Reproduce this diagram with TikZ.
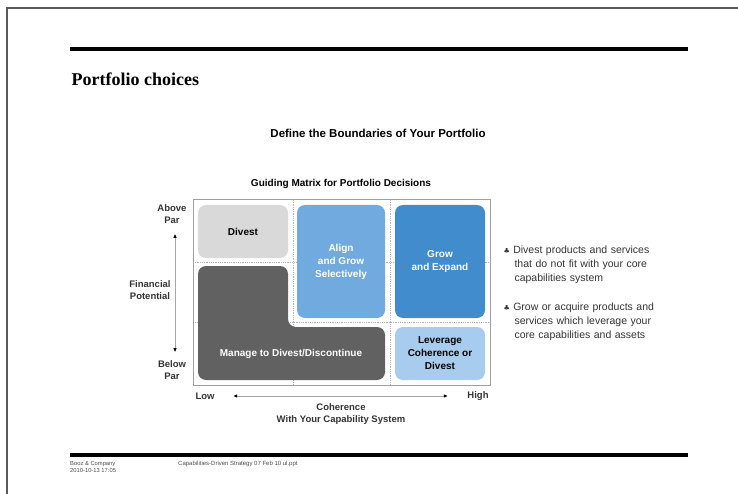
\documentclass[tikz,border=0pt]{standalone}
\usepackage{fontspec}
\setmainfont{Liberation Sans}
\newfontfamily\titlefont{Liberation Serif}
\newfontfamily\symfont{DejaVu Sans}
\usetikzlibrary{arrows.meta}

\definecolor{framegray}{RGB}{90,90,90}
\definecolor{divestgray}{RGB}{217,217,217}
\definecolor{managegray}{RGB}{97,97,97}
\definecolor{alignblue}{RGB}{112,170,222}
\definecolor{growblue}{RGB}{64,140,205}
\definecolor{leverageblue}{RGB}{168,204,237}

\tikzset{
  cellbox/.style={rounded corners=8pt,inner sep=0pt,align=center,font=\fontsize{10}{13}\selectfont\bfseries},
  gridline/.style={gray!60,densely dotted,line width=0.8pt},
  axislabel/.style={font=\fontsize{9.5}{11.5}\selectfont\bfseries,align=center,text=black!80},
  axisarrow/.style={gray!70,line width=0.8pt,{Latex[black,length=4pt,width=3.5pt]}-{Latex[black,length=4pt,width=3.5pt]}},
  bullettext/.style={anchor=north west,align=left,text width=190pt,font=\fontsize{10.5}{14}\selectfont,text=black!80},
  rule/.style={line width=3.5pt,black}
}
\newcommand{\clubmark}{{\symfont\fontsize{7}{14}\selectfont ♣}\ }

\begin{document}
\begin{tikzpicture}[x=1pt,y=-1pt]
\useasboundingbox (0,0) rectangle (738,494);
\draw[framegray,line width=1.2pt] (7,494) -- (7,8) -- (738,8);
\draw[rule] (70,49) -- (688,49);
\draw[rule] (70,455) -- (688,455);
\node[anchor=west,font=\titlefont\fontsize{18}{20}\selectfont\bfseries] (title) at (68,79) {Portfolio choices};
\node[font=\fontsize{11.5}{13}\selectfont\bfseries] (subtitle) at (378,133) {Define the Boundaries of Your Portfolio};
\node[font=\fontsize{10}{12}\selectfont\bfseries] (matrixtitle) at (341,184) {Guiding Matrix for Portfolio Decisions};
\coordinate (A) at (193,200);
\coordinate (B) at (490,385);
\draw[gridline] (293,200) -- (293,385);
\draw[gridline] (390,200) -- (390,385);
\draw[gridline] (193,262) -- (490,262);
\draw[gridline] (193,322) -- (490,322);
\draw[gray!75,line width=1pt] (A) rectangle (B);
\node[cellbox,fill=divestgray,minimum width=90pt,minimum height=53pt] (divest) at (243,231.5) {Divest};
\node[cellbox,fill=alignblue,text=white,minimum width=88pt,minimum height=113pt] (align) at (341,261.5) {Align\\and Grow\\Selectively};
\node[cellbox,fill=growblue,text=white,minimum width=90pt,minimum height=113pt] (grow) at (440,261.5) {Grow\\and Expand};
\node[cellbox,fill=leverageblue,minimum width=90pt,minimum height=53pt] (leverage) at (440,353.5) {Leverage\\Coherence or\\Divest};
\fill[managegray,rounded corners=8pt] (198,266) -- (288,266) -- (288,327) -- (385,327) -- (385,380) -- (198,380) -- cycle;
\node[cellbox,text=white] (manage) at (291,353.5) {Manage to Divest/Discontinue};
\node[axislabel] (abovepar) at (172,214) {Above\\Par};
\node[axislabel] (belowpar) at (172,370) {Below\\Par};
\draw[axisarrow,shorten <=7pt,shorten >=5pt] (abovepar.south -| 175,0) -- (belowpar.north -| 175,0);
\node[axislabel] (financial) at (150,290) {Financial\\Potential};
\node[axislabel] (low) at (205,396) {Low};
\node[axislabel] (high) at (478,396) {High};
\draw[axisarrow,shorten <=15pt,shorten >=16pt] (low.east) -- (high.west);
\node[axislabel] (coherence) at (341,414) {Coherence\\With Your Capability System};
\node[bullettext] (bulletone) at (500,242) {\clubmark Divest products and services\\\hspace*{11pt}that do not fit with your core\\\hspace*{11pt}capabilities system};
\node[bullettext] (bullettwo) at (500,299) {\clubmark Grow or acquire products and\\\hspace*{11pt}services which leverage your\\\hspace*{11pt}core capabilities and assets};
\node[anchor=north west,align=left,font=\fontsize{5.8}{7}\selectfont,text=black!70,inner sep=0pt] (footleft) at (70,461) {Booz \& Company\\2010-10-13 17:05};
\node[anchor=north west,font=\fontsize{6}{7}\selectfont,text=black!70,inner sep=0pt] (footmid) at (178,461) {Capabilities-Driven Strategy 07 Feb 10 ul.ppt};
\end{tikzpicture}
\end{document}
